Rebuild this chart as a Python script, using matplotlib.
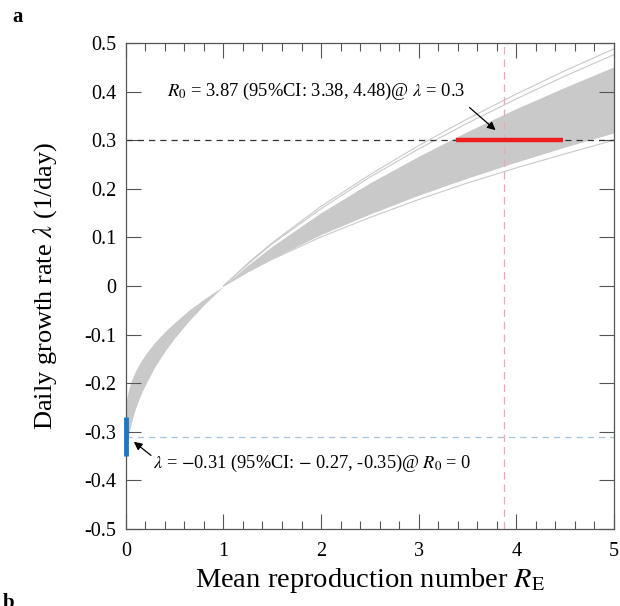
import matplotlib
matplotlib.use("Agg")
import matplotlib.pyplot as plt
from matplotlib.ticker import MultipleLocator

plt.rcParams['font.family'] = ['Liberation Serif', 'DejaVu Serif']
plt.rcParams['mathtext.fontset'] = 'stix'

# ---- data ----
R_grid = [0, 0.01, 0.03, 0.06, 0.1, 0.15, 0.2, 0.3, 0.4, 0.5, 0.65, 0.8, 1.0,
          1.25, 1.5, 2, 2.5, 3, 3.5, 4, 4.5, 5]
band_high_b = [-0.375, -0.335, -0.305, -0.278, -0.251, -0.225, -0.203, -0.165, -0.134,
               -0.107, -0.071, -0.039, 0, 0.043, 0.082, 0.151, 0.212, 0.267, 0.318,
               0.365, 0.409, 0.451]
band_low_b = [-0.255, -0.230, -0.211, -0.193, -0.174, -0.156, -0.141, -0.115, -0.094,
              -0.075, -0.049, -0.027, 0, 0.030, 0.057, 0.106, 0.148, 0.187, 0.222,
              0.255, 0.286, 0.315]
# thin outlying curves, visible only for R >= 1
R_out = [1.0, 1.25, 1.5, 2, 2.5, 3, 3.5, 4, 4.5, 5]
outlier_1 = [0, 0.045, 0.087, 0.159, 0.224, 0.282, 0.335, 0.385, 0.432, 0.476]
outlier_2 = [0, 0.047, 0.089, 0.164, 0.229, 0.289, 0.344, 0.395, 0.443, 0.488]
outlier_low = [0, 0.029, 0.055, 0.101, 0.141, 0.178, 0.212, 0.243, 0.272, 0.300]

R0_est, R0_lo, R0_hi = 3.87, 3.38, 4.48
lam_ref = 0.3
lam_est, lam_lo, lam_hi = -0.31, -0.27, -0.35

x_ticks = [0, 1, 2, 3, 4, 5]
y_ticks = [0.5, 0.4, 0.3, 0.2, 0.1, 0, -0.1, -0.2, -0.3, -0.4, -0.5]
y_tick_labels = ['0.5', '0.4', '0.3', '0.2', '0.1', '0', '-0.1', '-0.2', '-0.3', '-0.4', '-0.5']

# ---- figure ----
fig = plt.figure(figsize=(6.2, 6.06), dpi=100)
ax = fig.add_axes([0.203, 0.127, 0.787, 0.802])

grey = '#c9c9c9'
lo = [min(a, b) for a, b in zip(band_high_b, band_low_b)]
hi = [max(a, b) for a, b in zip(band_high_b, band_low_b)]
ax.fill_between(R_grid, lo, hi, color=grey, lw=0, zorder=1)
for c in (outlier_1, outlier_2, outlier_low):
    ax.plot(R_out, c, color=grey, lw=0.8, zorder=1)

ax.axhline(lam_ref, color='#333333', lw=0.9, ls=(0, (5, 4)), zorder=2)
ax.axhline(lam_est, color='#a9c3dc', lw=0.9, ls=(0, (5, 4)), zorder=2)
ax.axvline(R0_est, color='#f2a7b7', lw=0.9, ls=(0, (6, 4)), zorder=2)

ax.plot([R0_lo, R0_hi], [lam_ref, lam_ref], color='#ee1c1c', lw=3.2,
        solid_capstyle='butt', zorder=3)
ax.plot([0, 0], [lam_lo, lam_hi], color='#1f77c4', lw=3.5,
        solid_capstyle='butt', zorder=3, clip_on=False)

ax.text(0.42, 0.40, r'$R_0$ = 3.87 (95%CI: 3.38, 4.48)@ $\lambda$ = 0.3',
        fontsize=13.3, va='center', ha='left')
ax.annotate('', xy=(3.81, 0.317), xytext=(3.50, 0.371),
            arrowprops=dict(arrowstyle='-|>', color='black', lw=0.9,
                            mutation_scale=12))
ax.text(0.28, -0.364, r'$\lambda$ = $-$0.31 (95%CI: $-$ 0.27, -0.35)@ $R_0$ = 0',
        fontsize=13.2, va='center', ha='left')
ax.annotate('', xy=(0.06, -0.317), xytext=(0.28, -0.352),
            arrowprops=dict(arrowstyle='-|>', color='black', lw=0.9,
                            mutation_scale=12))

ax.set_xlim(0, 5)
ax.set_ylim(-0.5, 0.5)
ax.set_xticks(x_ticks)
ax.set_xticklabels([str(v) for v in x_ticks])
ax.set_yticks(y_ticks)
ax.set_yticklabels(y_tick_labels)
ax.xaxis.set_minor_locator(MultipleLocator(0.2))
ax.tick_params(which='both', direction='in', top=True, right=True,
               labelsize=14.5, colors='#555555', labelcolor='black')
ax.tick_params(axis='x', pad=9)
ax.tick_params(axis='y', pad=7)
ax.tick_params(which='major', length=11, width=0.8)
ax.tick_params(which='minor', length=6, width=0.8)
for s in ax.spines.values():
    s.set_color('#555555')
    s.set_linewidth(0.9)

ax.set_xlabel(r'Mean reproduction number $R_{\mathrm{E}}$', fontsize=20.5, labelpad=4)
ax.set_ylabel(r'Daily growth rate $\lambda$ (1/day)', fontsize=19, labelpad=18)

fig.text(0.02, 0.988, 'a', fontsize=15, fontweight='bold', va='top', ha='left')
fig.text(0.005, -0.012, 'b', fontsize=15, fontweight='bold', va='bottom', ha='left')

fig.savefig('out.png', dpi=100)
